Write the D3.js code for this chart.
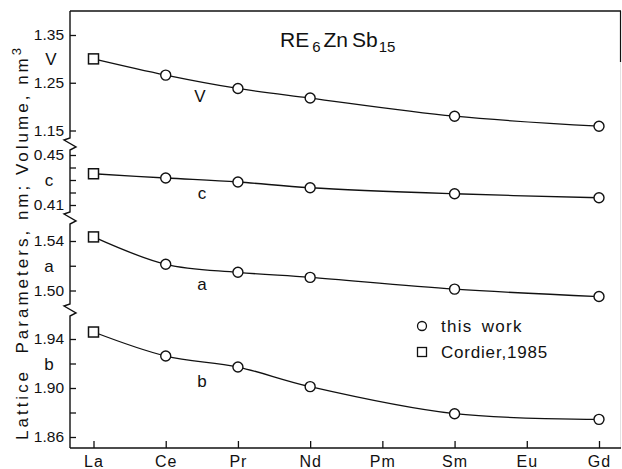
<!DOCTYPE html>
<meta charset="utf-8">
<style>
  body { margin: 0; background: #fff; }
  svg { font-family: "Liberation Sans", Arial, sans-serif; }
  text { fill: #111; }
</style>
<body>
<div id="chart"></div>
<script src="https://cdn.jsdelivr.net/npm/d3@7"></script>
<script>

// rare earth elements along the x axis (Pm, Eu have no compound)
var elements = ["La", "Ce", "Pr", "Nd", "Pm", "Sm", "Eu", "Gd"];

// source of each point: "c" = Cordier 1985, "t" = this work
var source = ["c", "t", "t", "t", null, "t", null, "t"];

var volV = [1.300, 1.266, 1.238, 1.218, null, 1.180, null, 1.159];
var latC = [0.435, 0.4316, 0.4284, 0.4238, null, 0.419, null, 0.4158];
var latA = [1.5433, 1.5212, 1.5147, 1.5106, null, 1.5011, null, 1.4951];
var latB = [1.9457, 1.9261, 1.9171, 1.9011, null, 1.879, null, 1.8744];

// tick values and labelled ticks per panel
var ticksV = [1.15, 1.25, 1.35], labelsV = [1.15, 1.25, 1.35];
var ticksC = [0.41, 0.42, 0.43, 0.44, 0.45], labelsC = [0.41, 0.45];
var ticksA = [1.50, 1.52, 1.54], labelsA = [1.50, 1.54];
var ticksB = [1.86, 1.88, 1.90, 1.92, 1.94], labelsB = [1.86, 1.90, 1.94];

var width = 622, height = 469;
var mLeft = 70, mRight = 621, mTop = 11, mBottom = 448;

var svg = d3.select("#chart").append("svg")
    .attr("width", width)
    .attr("height", height);

var x = d3.scalePoint()
    .domain(elements)
    .range([93.5, 599]);

var panels = [
  { name: "V", data: volV, ticks: ticksV, labels: labelsV, mark: 1.30,
    y: d3.scaleLinear().domain([1.15, 1.35]).range([130.5, 35]), lx: 200, ly: 102, mx: 51 },
  { name: "c", data: latC, ticks: ticksC, labels: labelsC, mark: 0.43,
    y: d3.scaleLinear().domain([0.41, 0.45]).range([205, 155]), lx: 202, ly: 199, mx: 49 },
  { name: "a", data: latA, ticks: ticksA, labels: labelsA, mark: 1.52,
    y: d3.scaleLinear().domain([1.50, 1.54]).range([290.5, 241]), lx: 202, ly: 290, mx: 49 },
  { name: "b", data: latB, ticks: ticksB, labels: labelsB, mark: 1.92,
    y: d3.scaleLinear().domain([1.86, 1.94]).range([437, 339]), lx: 202, ly: 387, mx: 49 }
];

var breaks = [144, 218, 310];
var fmt = d3.format(".2f");

// frame: top, right stub, left axis with break marks
svg.append("line")
    .attr("x1", mLeft).attr("x2", mRight).attr("y1", mTop).attr("y2", mTop)
    .attr("stroke", "#111").attr("stroke-width", 1.4);
svg.append("line")
    .attr("x1", mRight - 0.5).attr("x2", mRight - 0.5).attr("y1", mTop).attr("y2", 62)
    .attr("stroke", "#111").attr("stroke-width", 1.2);
svg.append("line")
    .attr("x1", mRight - 0.5).attr("x2", mRight - 0.5).attr("y1", 62).attr("y2", mBottom)
    .attr("stroke", "#e2e2e2").attr("stroke-width", 1);

var axisPts = [[mLeft, mTop]];
breaks.forEach(function(b) {
  axisPts.push([mLeft, b - 6], [mLeft - 6, b - 4], [mLeft + 6, b + 3], [mLeft, b + 6]);
});
axisPts.push([mLeft, mBottom]);
svg.append("path")
    .attr("d", d3.line()(axisPts))
    .attr("fill", "none")
    .attr("stroke", "#111")
    .attr("stroke-width", 1.4);

// x axis
var xAxis = svg.append("g")
    .attr("transform", "translate(0," + mBottom + ")")
    .call(d3.axisBottom(x).tickSize(-7).tickPadding(8));
xAxis.select(".domain").remove();
xAxis.append("line")
    .attr("x1", mLeft).attr("x2", mRight)
    .attr("stroke", "#111").attr("stroke-width", 1.4);
xAxis.selectAll(".tick line").attr("stroke", "#111").attr("stroke-width", 1.3);
xAxis.selectAll(".tick text")
    .attr("font-size", 16).attr("fill", "#111")
    .attr("font-family", "Liberation Sans, Arial, sans-serif")
    .attr("dy", "0.71em").attr("letter-spacing", 1);

var line = d3.line().curve(d3.curveCatmullRom.alpha(0.5));

panels.forEach(function(p) {
  var g = svg.append("g")
      .attr("transform", "translate(" + mLeft + ",0)")
      .call(d3.axisLeft(p.y)
        .tickValues(p.ticks)
        .tickSize(-6)
        .tickPadding(6)
        .tickFormat(function(d) {
          return p.labels.some(function(l) { return Math.abs(l - d) < 1e-9; }) ? fmt(d) : "";
        }));
  g.select(".domain").remove();
  g.selectAll(".tick line").attr("stroke", "#111").attr("stroke-width", 1.3);
  g.selectAll(".tick text")
      .attr("font-size", 15.5).attr("fill", "#111")
      .attr("font-family", "Liberation Sans, Arial, sans-serif");

  // series letter beside the axis
  svg.append("text")
      .attr("x", p.mx).attr("y", p.y(p.mark))
      .attr("dy", "0.36em")
      .attr("text-anchor", "middle")
      .attr("font-size", 17)
      .text(p.name);

  var pts = [];
  p.data.forEach(function(v, i) {
    if (v != null) pts.push({ el: elements[i], v: v, src: source[i] });
  });

  svg.append("path")
      .attr("d", line(pts.map(function(d) { return [x(d.el), p.y(d.v)]; })))
      .attr("fill", "none")
      .attr("stroke", "#111")
      .attr("stroke-width", 1.3);

  svg.selectAll(null)
      .data(pts.filter(function(d) { return d.src === "t"; }))
    .enter().append("circle")
      .attr("cx", function(d) { return x(d.el); })
      .attr("cy", function(d) { return p.y(d.v); })
      .attr("r", 5)
      .attr("fill", "#fff")
      .attr("stroke", "#111")
      .attr("stroke-width", 1.4);

  svg.selectAll(null)
      .data(pts.filter(function(d) { return d.src === "c"; }))
    .enter().append("rect")
      .attr("x", function(d) { return x(d.el) - 5; })
      .attr("y", function(d) { return p.y(d.v) - 5; })
      .attr("width", 10)
      .attr("height", 10)
      .attr("fill", "#fff")
      .attr("stroke", "#111")
      .attr("stroke-width", 1.5);

  // series letter under the curve
  svg.append("text")
      .attr("x", p.lx).attr("y", p.ly)
      .attr("text-anchor", "middle")
      .attr("font-size", 17)
      .text(p.name);
});

// compound title
var title = svg.append("text")
    .attr("x", 280).attr("y", 47)
    .attr("font-size", 21);
title.append("tspan").text("RE");
title.append("tspan").attr("dx", 3).attr("dy", 5).attr("font-size", 15).text("6");
title.append("tspan").attr("dx", 3).attr("dy", -5).text("Zn");
title.append("tspan").attr("dx", 4).text("Sb");
title.append("tspan").attr("dx", 1).attr("dy", 5).attr("font-size", 15).text("15");

// legend
var legend = svg.append("g").attr("transform", "translate(422,0)");
legend.append("circle")
    .attr("cx", 0).attr("cy", 326).attr("r", 4.5)
    .attr("fill", "#fff").attr("stroke", "#111").attr("stroke-width", 1.3);
legend.append("rect")
    .attr("x", -4.5).attr("y", 347.5).attr("width", 9).attr("height", 9)
    .attr("fill", "#fff").attr("stroke", "#111").attr("stroke-width", 1.3);
legend.append("text")
    .attr("x", 19).attr("y", 332)
    .attr("font-size", 17).attr("letter-spacing", 1.3).attr("word-spacing", 3)
    .text("this work");
legend.append("text")
    .attr("x", 19).attr("y", 358)
    .attr("font-size", 17).attr("letter-spacing", 0.8)
    .text("Cordier,1985");

// y axis title
var ytitle = svg.append("text")
    .attr("transform", "translate(28,440) rotate(-90)")
    .attr("font-size", 17)
    .attr("textLength", 392)
    .attr("lengthAdjust", "spacing")
    .style("white-space", "pre");
ytitle.append("tspan").text("Lattice  Parameters, nm; Volume, nm");
ytitle.append("tspan").attr("dy", -7).attr("font-size", 13).text("3");

</script>
</body>
